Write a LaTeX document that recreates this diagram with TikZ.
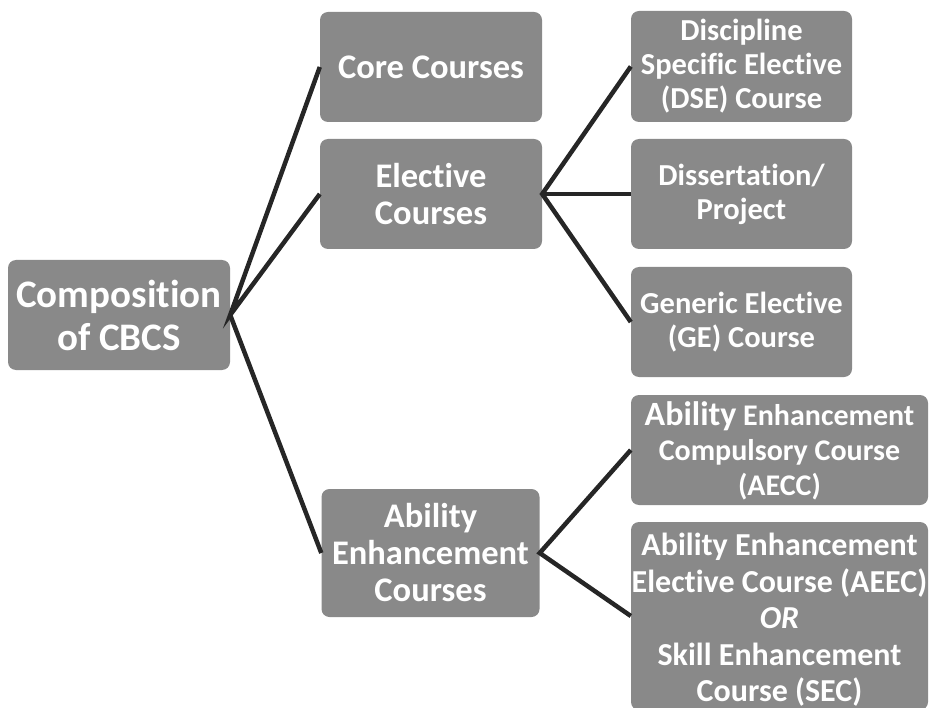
\documentclass[tikz,border=0pt]{standalone}
\usepackage{fontspec}
\setmainfont{Carlito}[Ligatures=NoCommon]
\definecolor{boxgray}{RGB}{137,137,137}
\definecolor{linedark}{RGB}{38,38,38}
\tikzset{
  box/.style={fill=boxgray, draw=none, rounded corners=8pt, inner sep=0pt, text=white, align=center, font=\bfseries},
  link/.style={draw=linedark, line width=4.5pt},
  bigtxt/.style={font=\bfseries\fontsize{39}{43}\selectfont},
  midtxt/.style={font=\bfseries\fontsize{34.5}{37}\selectfont},
  smalltxt/.style={font=\bfseries\fontsize{30.5}{34}\selectfont},
  whitetxt/.style={text=white, align=center, inner sep=0pt}
}
\begin{document}
\begin{tikzpicture}[x=1pt,y=-1pt]
\useasboundingbox (0,0) rectangle (931,708);
% boxes
\node[box, bigtxt, minimum width=222pt, minimum height=110pt] (root) at (119,315) {Composition\\of CBCS};
\node[box, midtxt, minimum width=222pt, minimum height=110pt] (core) at (431,67) {Core Courses};
\node[box, midtxt, minimum width=222pt, minimum height=110pt] (elec) at (431,194) {Elective\\Courses};
\node[box, midtxt, minimum width=218pt, minimum height=128pt] (abil) at (430.5,553) {Ability\\Enhancement\\Courses};
\node[box, smalltxt, minimum width=221pt, minimum height=111pt] (dse) at (741.5,66.5) {Discipline\\Specific Elective\\(DSE) Course};
\node[box, smalltxt, minimum width=221pt, minimum height=110pt] (diss) at (741.5,194) {Dissertation/\\Project};
\node[box, smalltxt, minimum width=221pt, minimum height=110pt] (ge) at (741.5,322) {Generic Elective\\(GE) Course};
\node[box, minimum width=297pt, minimum height=110pt] (aecc) at (779.5,450) {};
\node[whitetxt, font=\bfseries\fontsize{30}{35}\selectfont] (aecctxt) at (779.5,451) {{\fontsize{34}{35}\selectfont Ability} Enhancement\\Compulsory Course\\(AECC)};
\node[box, minimum width=297pt, minimum height=188pt] (aeec) at (779.5,616) {};
\node[whitetxt, font=\bfseries\fontsize{32}{36.5}\selectfont] (aeectxt) at (779.5,620) {Ability Enhancement\\Elective Course (AEEC)\\\textit{OR}\\Skill Enhancement\\Course (SEC)};
% connectors
\draw[link] (core.west) -- (root.east) -- (elec.west);
\draw[link] (root.east) -- (abil.west);
\draw[link] (dse.west) -- (elec.east) -- (ge.west);
\draw[link] (elec.east) -- (diss.west);
\draw[link] (aecc.west) -- (abil.east) -- (aeec.west);
\end{tikzpicture}
\end{document}
